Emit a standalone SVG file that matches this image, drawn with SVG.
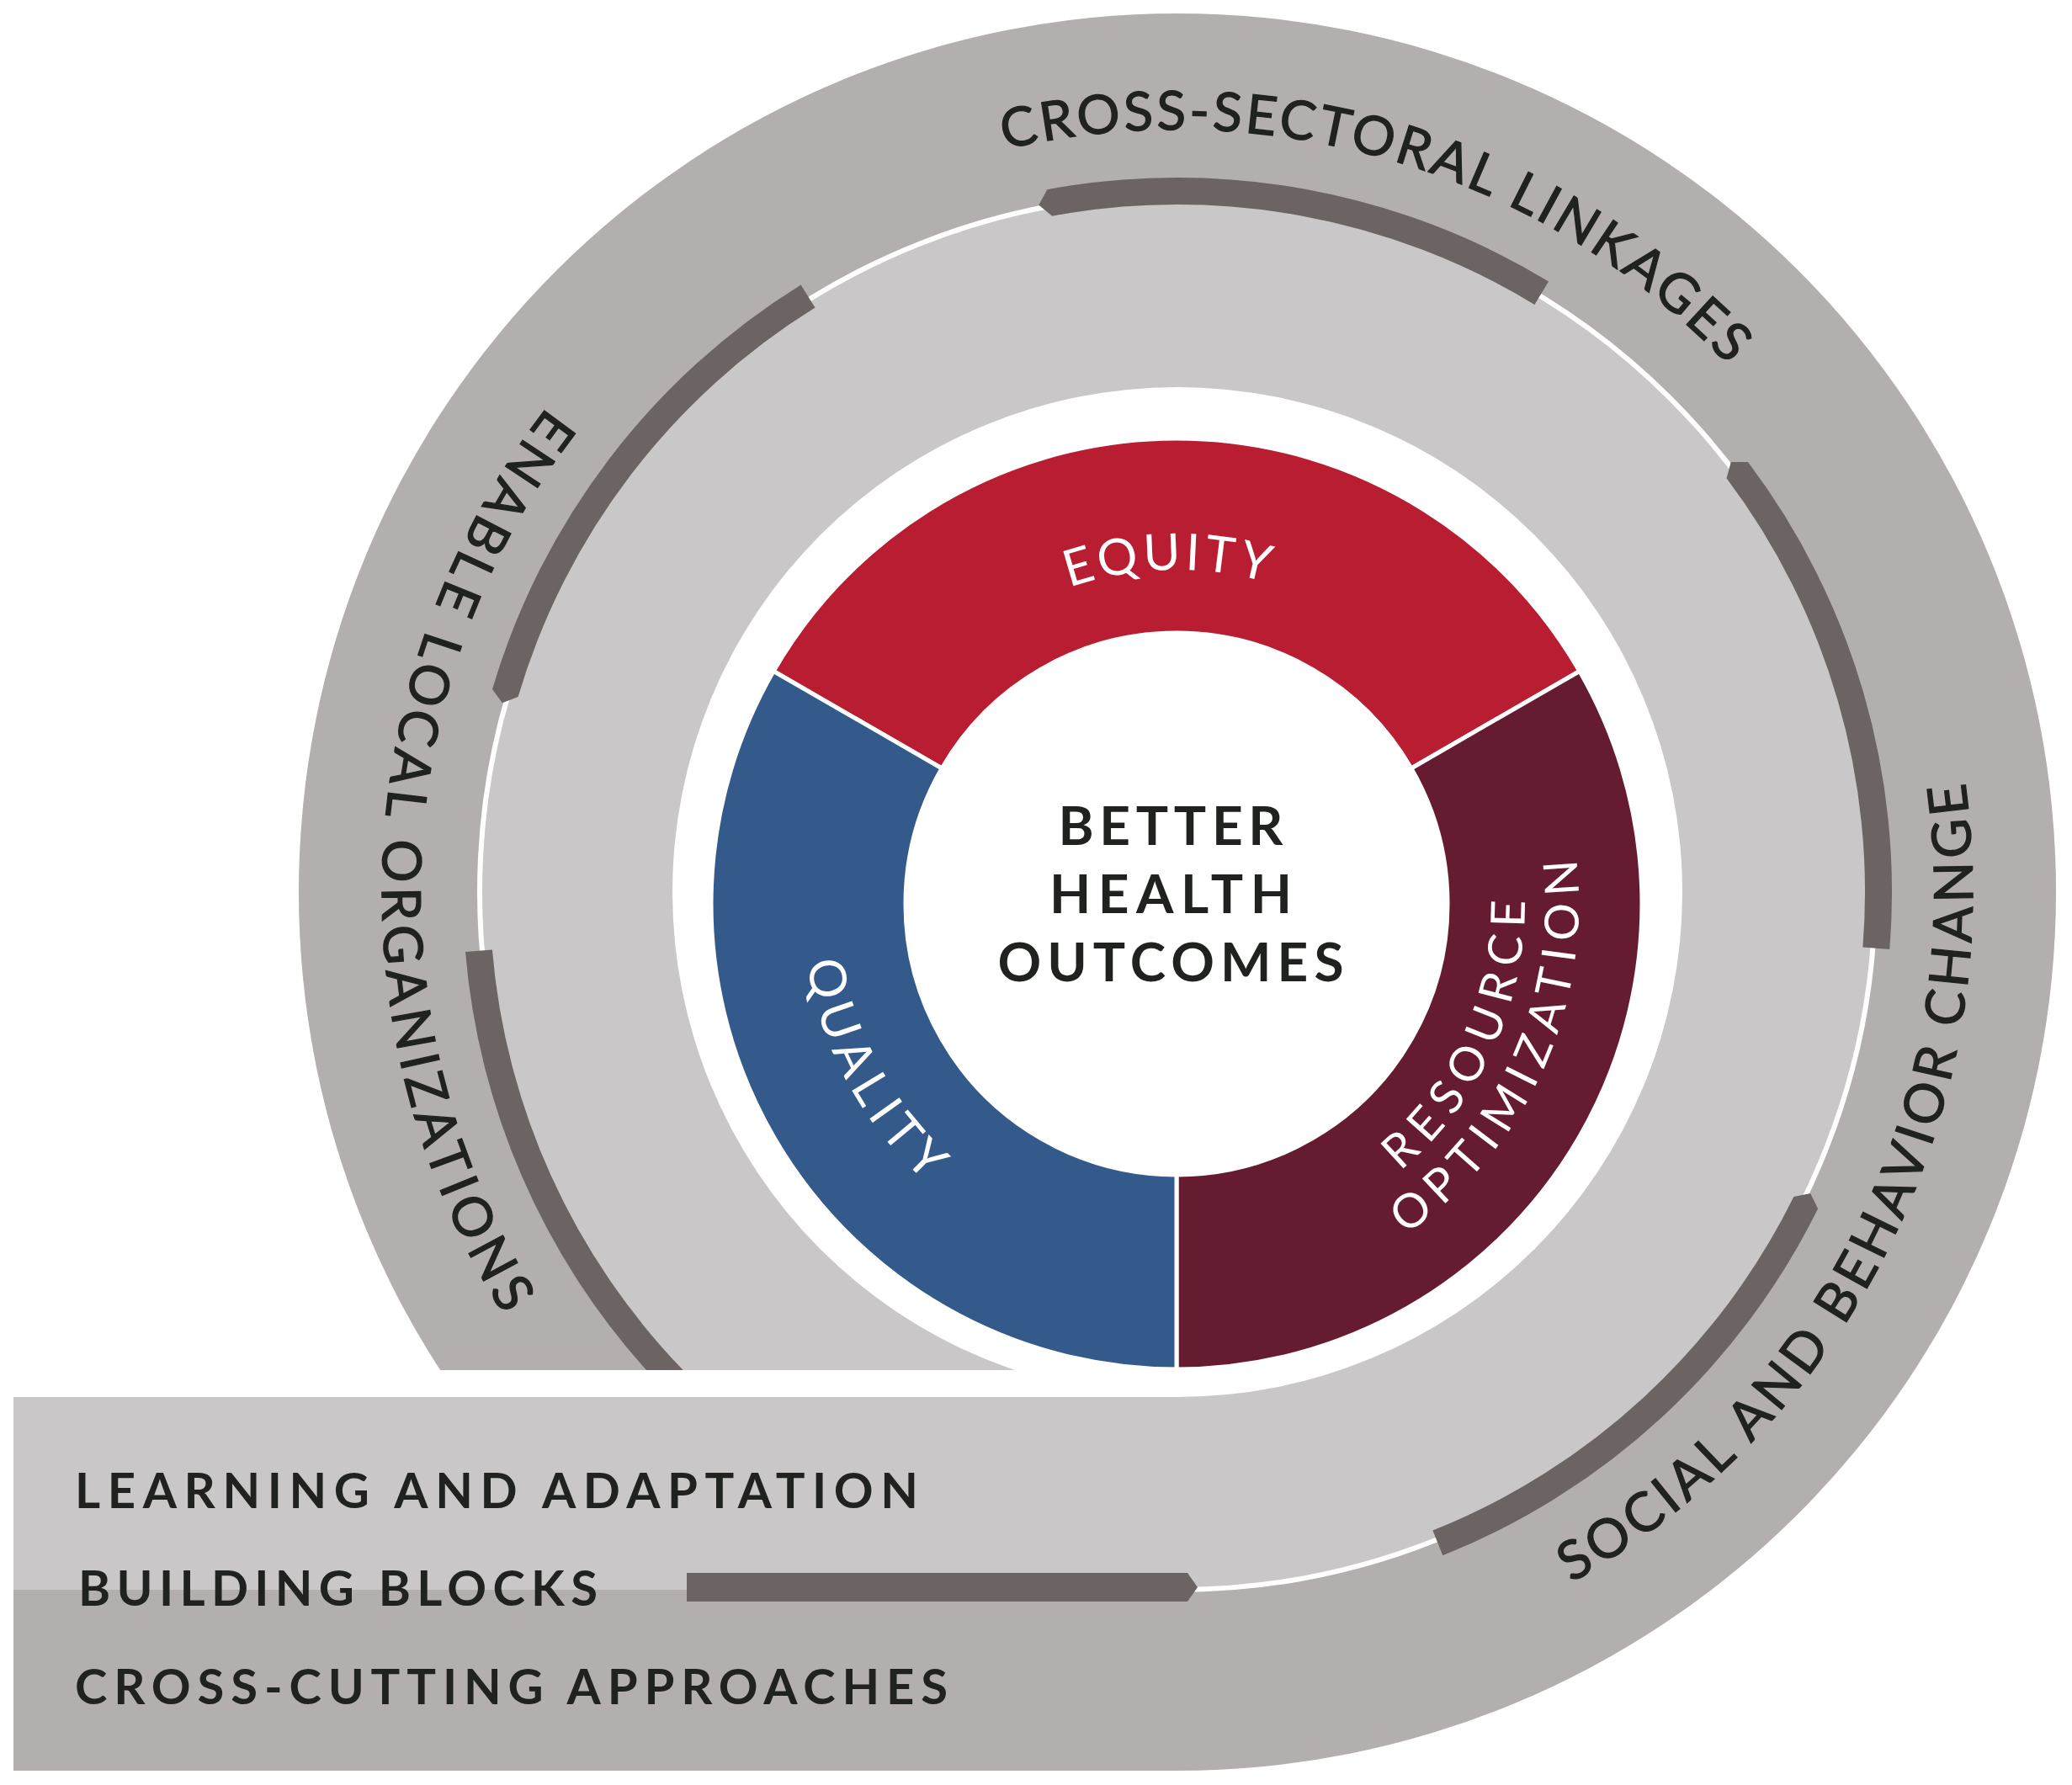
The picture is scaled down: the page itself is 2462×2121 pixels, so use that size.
<svg xmlns="http://www.w3.org/2000/svg" width="2462" height="2121" viewBox="0 0 2462 2121">
<style>
.ring{font-family:Lato,"Open Sans","Liberation Sans",sans-serif;font-size:64px;fill:#1f221e;stroke:#1f221e;stroke-width:1.3px}
.seg{font-family:Lato,"Open Sans","Liberation Sans",sans-serif;font-size:60px;fill:#ffffff}
.seg2{font-family:Lato,"Open Sans","Liberation Sans",sans-serif;font-size:56px;fill:#ffffff}
.ctr{font-family:Lato,"Open Sans","Liberation Sans",sans-serif;font-size:64px;font-weight:700;fill:#1f221e;text-anchor:middle}
.strip{font-family:Lato,"Open Sans","Liberation Sans",sans-serif;font-size:58px;font-weight:700;fill:#1f221e}
.bar{fill:#6c6463}
</style>
<defs>
<path id="p-top" d="M 1193.7,177.6 A 906 906 0 0 1 2183.6,607"/>
<path id="p-left" d="M 650.3,483.4 A 945 945 0 0 0 675.1,1667.4"/>
<path id="p-right" d="M 1867.2,1880.9 A 945 945 0 0 0 2287,736.8"/>
<path id="p-eq" d="M 1049.1,884.6 A 397 397 0 0 1 1736.5,866.6"/>
<path id="p-qu" d="M 1018.6,841.5 A 445 445 0 0 0 1386.3,1518.8"/>
<path id="p-res" d="M 1435.9,1486.3 A 414 414 0 0 0 1736.1,835.1"/>
<path id="p-opt" d="M 1444.2,1549.8 A 478 478 0 0 0 1786.9,796.1"/>
</defs>

<g id="background-rings">
<circle cx="1399" cy="1060" r="1044" fill="#b3afae"/>
<circle cx="1399" cy="1060" r="829" fill="#c9c7c8"/>
<circle cx="1399" cy="1060" r="829" fill="none" stroke="#ffffff" stroke-width="6"/>
<rect x="0" y="1628" width="1399" height="493" fill="#ffffff"/>
</g>

<g id="strip">
<rect x="16" y="1660" width="1384" height="229" fill="#c9c7c8"/>
<rect x="16" y="1889" width="1384" height="215" fill="#b3afae"/>
</g>

<circle id="inner-disc" cx="1399" cy="1060" r="600" fill="#ffffff"/>

<g id="connectors">
<path class="bar" d="M 1234.3,243.4 L 1244.3,225.2 A 849 849 0 0 1 1840.1,334.6 L 1823.4,361.9 A 817 817 0 0 0 1250.1,256.7 Z"/>
<path class="bar" d="M 2056.8,548.9 L 2077,549.1 A 849 849 0 0 1 2245.3,1128.1 L 2213.4,1125.5 A 817 817 0 0 0 2051.5,568.3 Z"/>
<path class="bar" d="M 2151.2,1418 L 2160.1,1436.2 A 849 849 0 0 1 1714.3,1848.3 L 1702.4,1818.6 A 817 817 0 0 0 2131.4,1422 Z"/>
<path class="bar" d="M 816,1869 L 1411,1869 L 1423,1886 L 1411,1903 L 816,1903 Z"/>
<path class="bar" d="M 553,1131 A 849 849 0 0 0 768,1628 L 811.7,1628 A 817 817 0 0 1 584.9,1128.4 Z"/>
<path class="bar" d="M 951.6,338.4 A 849 849 0 0 0 585,818.9 L 596.9,835.3 L 615.6,828 A 817 817 0 0 1 968.5,365.6 Z"/>
</g>

<g id="donut" stroke="#ffffff" stroke-width="5" stroke-linejoin="round">
<path id="seg-equity" fill="#b91d31" d="M 919.1,797.5 A 553 553 0 0 1 1876.9,797.5 L 1676.9,913 A 322 322 0 0 0 1119.1,913 Z"/>
<path id="seg-resource" fill="#661c30" d="M 1876.9,797.5 A 553 553 0 0 1 1398,1627 L 1398,1396 A 322 322 0 0 0 1676.9,913 Z"/>
<path id="seg-quality" fill="#335a8a" d="M 1398,1627 A 553 553 0 0 1 919.1,797.5 L 1119.1,913 A 322 322 0 0 0 1398,1396 Z"/>
</g>

<g id="label-cross-sectoral"><text class="ring"><textPath href="#p-top" textLength="939" lengthAdjust="spacing">CROSS-SECTORAL LINKAGES</textPath></text></g>
<g id="label-enable-local"><text class="ring"><textPath href="#p-left" textLength="1150" lengthAdjust="spacing">ENABLE LOCAL ORGANIZATIONS</textPath></text></g>
<g id="label-sbc"><text class="ring"><textPath href="#p-right" textLength="1125" lengthAdjust="spacing">SOCIAL AND BEHAVIOR CHANGE</textPath></text></g>

<g id="label-equity"><text class="seg" text-anchor="middle"><textPath href="#p-eq" startOffset="50%" textLength="239" lengthAdjust="spacing">EQUITY</textPath></text></g>
<g id="label-quality"><text class="seg" text-anchor="middle"><textPath href="#p-qu" startOffset="50%" textLength="303" lengthAdjust="spacing">QUALITY</textPath></text></g>
<g id="label-resource"><text class="seg2" text-anchor="middle"><textPath href="#p-res" startOffset="50%" textLength="366" lengthAdjust="spacing">RESOURCE</textPath></text>
<text class="seg2" text-anchor="middle"><textPath href="#p-opt" startOffset="50%" textLength="515" lengthAdjust="spacing">OPTIMIZATION</textPath></text></g>

<g id="center">
<text class="ctr" x="1391" y="1004" textLength="267" lengthAdjust="spacing">BETTER</text>
<text class="ctr" x="1391" y="1085" textLength="288" lengthAdjust="spacing">HEALTH</text>
<text class="ctr" x="1391" y="1166" textLength="411" lengthAdjust="spacing">OUTCOMES</text>
</g>

<g id="strip-labels">
<text class="strip" x="89" y="1792" textLength="1002" lengthAdjust="spacing">LEARNING AND ADAPTATION</text>
<text class="strip" x="93" y="1908" textLength="617" lengthAdjust="spacing">BUILDING BLOCKS</text>
<text class="strip" x="89" y="2025" textLength="1037" lengthAdjust="spacing">CROSS-CUTTING APPROACHES</text>
</g>
</svg>
